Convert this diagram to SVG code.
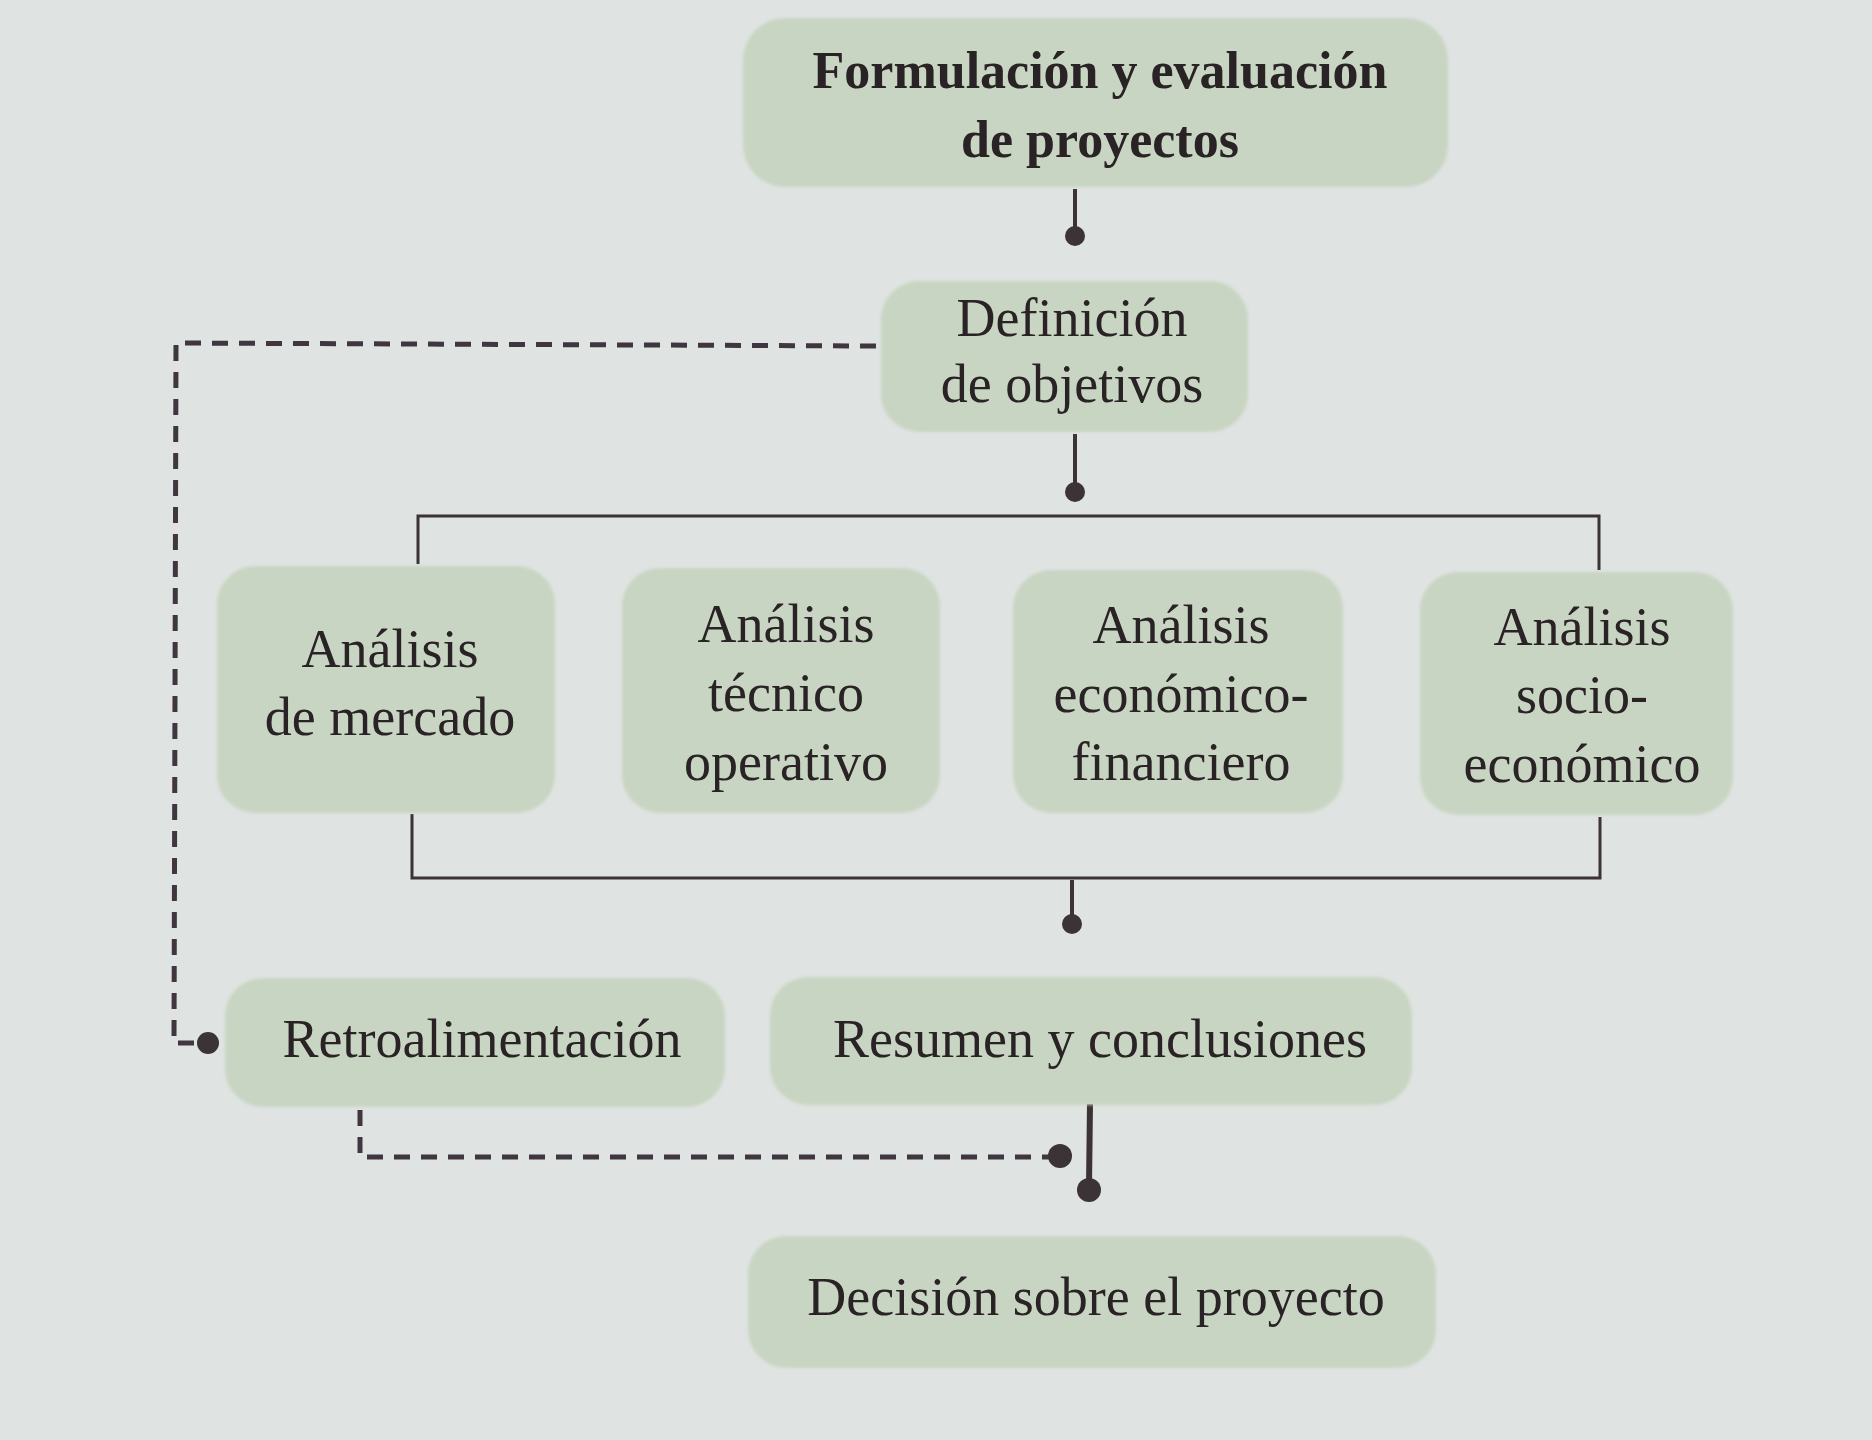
<svg xmlns="http://www.w3.org/2000/svg" width="1872" height="1440" viewBox="0 0 1872 1440">
  <defs>
    <style>
      .box { fill: #c9d5c3; }
      .t { font-family: "Liberation Serif", "Times New Roman", serif; font-size: 54px; fill: #2a2326; text-anchor: middle; }
      .tb { font-family: "Liberation Serif", "Times New Roman", serif; font-size: 52px; font-weight: bold; fill: #2a2326; text-anchor: middle; }
      .solid { fill: none; stroke: #3b3336; stroke-width: 3; }
      .thick { fill: none; stroke: #3b3336; stroke-width: 6; }
      .dash { fill: none; stroke: #3f3640; stroke-width: 5; stroke-dasharray: 16 11; }
      .dot { fill: #3b3336; }
    </style>
    <filter id="soft" x="-5%" y="-5%" width="110%" height="110%">
      <feGaussianBlur stdDeviation="1.5"/>
    </filter>
  </defs>

  <rect x="0" y="0" width="1872" height="1440" fill="#dfe3e1"/>

  <g id="connectors">
    <!-- top box to Definicion -->
    <line class="thick" x1="1075" y1="189" x2="1075" y2="232" style="stroke-width:4"/>
    <circle class="dot" cx="1075" cy="236" r="10"/>
    <!-- Definicion to bracket -->
    <line class="thick" x1="1075" y1="434" x2="1075" y2="488" style="stroke-width:4"/>
    <circle class="dot" cx="1075" cy="492" r="10"/>
    <!-- top bracket -->
    <polyline class="solid" points="418,564 418,516 1599,516 1599,570"/>
    <!-- bottom bracket -->
    <polyline class="solid" points="412,814 412,878 1600,878 1600,817"/>
    <line class="thick" x1="1072" y1="880" x2="1072" y2="920" style="stroke-width:4"/>
    <circle class="dot" cx="1072" cy="924" r="10"/>
    <!-- Resumen to Decision -->
    <line class="thick" x1="1090" y1="1104" x2="1089" y2="1186"/>
    <circle class="dot" cx="1089" cy="1190" r="12"/>
    <!-- dashed feedback from Retroalimentacion to decision line -->
    <polyline class="dash" points="360,1110 360,1157 1050,1157"/>
    <circle class="dot" cx="1060" cy="1156" r="12"/>
    <!-- dashed feedback from Definicion to Retroalimentacion -->
    <polyline class="dash" points="876,346 176,343 174,1043 194,1043"/>
    <circle class="dot" cx="208" cy="1043" r="11"/>
  </g>

  <g id="node-formulacion">
    <rect class="box" x="743" y="18" width="705" height="169" rx="42" filter="url(#soft)"/>
    <text class="tb" x="1100" y="88">Formulación y evaluación</text>
    <text class="tb" x="1100" y="157">de proyectos</text>
  </g>

  <g id="node-definicion">
    <rect class="box" x="881" y="281" width="367" height="151" rx="38" filter="url(#soft)"/>
    <text class="t" x="1072" y="336">Definición</text>
    <text class="t" x="1072" y="402">de objetivos</text>
  </g>

  <g id="node-mercado">
    <rect class="box" x="217" y="566" width="338" height="247" rx="38" filter="url(#soft)"/>
    <text class="t" x="390" y="667">Análisis</text>
    <text class="t" x="390" y="735">de mercado</text>
  </g>

  <g id="node-tecnico">
    <rect class="box" x="622" y="568" width="318" height="245" rx="38" filter="url(#soft)"/>
    <text class="t" x="786" y="642">Análisis</text>
    <text class="t" x="786" y="711">técnico</text>
    <text class="t" x="786" y="780">operativo</text>
  </g>

  <g id="node-economico">
    <rect class="box" x="1013" y="570" width="330" height="243" rx="38" filter="url(#soft)"/>
    <text class="t" x="1181" y="643">Análisis</text>
    <text class="t" x="1181" y="712">económico-</text>
    <text class="t" x="1181" y="780">financiero</text>
  </g>

  <g id="node-socio">
    <rect class="box" x="1420" y="572" width="313" height="243" rx="38" filter="url(#soft)"/>
    <text class="t" x="1582" y="645">Análisis</text>
    <text class="t" x="1582" y="713">socio-</text>
    <text class="t" x="1582" y="782">económico</text>
  </g>

  <g id="node-retroalimentacion">
    <rect class="box" x="225" y="978" width="500" height="129" rx="38" filter="url(#soft)"/>
    <text class="t" x="482" y="1057">Retroalimentación</text>
  </g>

  <g id="node-resumen">
    <rect class="box" x="770" y="977" width="642" height="128" rx="38" filter="url(#soft)"/>
    <text class="t" x="1100" y="1057">Resumen y conclusiones</text>
  </g>

  <g id="node-decision">
    <rect class="box" x="748" y="1236" width="688" height="132" rx="38" filter="url(#soft)"/>
    <text class="t" x="1096" y="1315">Decisión sobre el proyecto</text>
  </g>
</svg>
